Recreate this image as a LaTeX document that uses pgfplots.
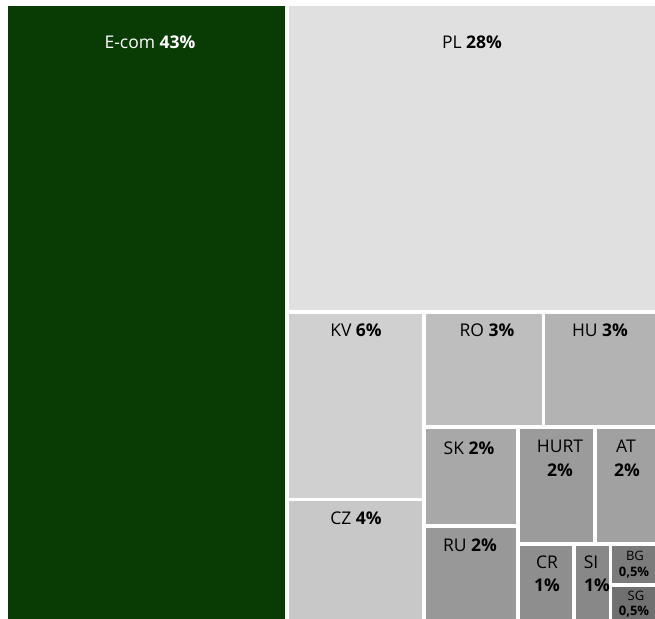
\documentclass[border=0pt]{standalone}
\usepackage{pgfplots}
\pgfplotsset{compat=1.18}
\usepackage{fontspec}
\setmainfont{Open Sans}
\definecolor{cEcom}{HTML}{093C04}
\definecolor{cPL}{HTML}{E0E0E0}
\definecolor{cKV}{HTML}{D0D0D0}
\definecolor{cCZ}{HTML}{C8C8C8}
\definecolor{cRO}{HTML}{BEBEBE}
\definecolor{cHU}{HTML}{B3B3B3}
\definecolor{cSK}{HTML}{A8A8A8}
\definecolor{cRU}{HTML}{989898}
\definecolor{cHURT}{HTML}{9B9B9B}
\definecolor{cAT}{HTML}{A1A1A1}
\definecolor{cCR}{HTML}{8E8E8E}
\definecolor{cSI}{HTML}{888888}
\definecolor{cBG}{HTML}{7B7B7B}
\definecolor{cSG}{HTML}{707070}
\newcommand{\rect}[5]{\addplot[fill=#1,draw=none] coordinates {(#2,#4) (#3,#4) (#3,#5) (#2,#5)} -- cycle;}
\newcommand{\lab}{\fontsize{17.5bp}{20bp}\selectfont}
\newcommand{\slab}{\fontsize{13bp}{15bp}\selectfont}
\begin{document}
\begin{tikzpicture}
\begin{axis}[
  scale only axis, width=655bp, height=619bp,
  xmin=0, xmax=655, ymin=0, ymax=619, y dir=reverse,
  hide axis, clip=true,
  axis background/.style={fill=white},
]
\rect{cEcom}{8}{285}{6.5}{625}
\rect{cPL}{288.5}{660}{6.5}{310}
\rect{cKV}{288.5}{422}{313.5}{497.5}
\rect{cCZ}{288.5}{422}{501}{625}
\rect{cRO}{425.5}{541.5}{313.5}{425}
\rect{cHU}{545}{660}{313.5}{425}
\rect{cSK}{425.5}{516}{429}{524}
\rect{cRU}{425.5}{516}{528}{625}
\rect{cHURT}{520}{592.5}{429}{542}
\rect{cAT}{596.5}{660}{429}{542}
\rect{cCR}{520}{572}{546}{625}
\rect{cSI}{576}{608.5}{546}{625}
\rect{cBG}{612}{660}{546}{583}
\rect{cSG}{612}{660}{587}{625}
\node[text=white] at (axis cs:150,42) {\lab E-com \textbf{43\%}};
\node at (axis cs:472,42) {\lab PL \textbf{28\%}};
\node at (axis cs:356,330) {\lab KV \textbf{6\%}};
\node at (axis cs:487,330) {\lab RO \textbf{3\%}};
\node at (axis cs:600,330) {\lab HU \textbf{3\%}};
\node at (axis cs:469,448) {\lab SK \textbf{2\%}};
\node at (axis cs:560,446) {\lab HURT};
\node at (axis cs:560,470) {\lab \textbf{2\%}};
\node at (axis cs:626,446) {\lab AT};
\node at (axis cs:627,470) {\lab \textbf{2\%}};
\node at (axis cs:356,518) {\lab CZ \textbf{4\%}};
\node at (axis cs:470,545) {\lab RU \textbf{2\%}};
\node at (axis cs:547,562) {\lab CR};
\node at (axis cs:547,585) {\lab \textbf{1\%}};
\node at (axis cs:591,562) {\lab SI};
\node at (axis cs:597,585) {\lab \textbf{1\%}};
\node at (axis cs:635,556) {\slab BG};
\node at (axis cs:634,573) {\slab \textbf{0,5\%}};
\node at (axis cs:636,596) {\slab SG};
\node at (axis cs:634,612) {\slab \textbf{0,5\%}};
\end{axis}
\end{tikzpicture}
\end{document}
